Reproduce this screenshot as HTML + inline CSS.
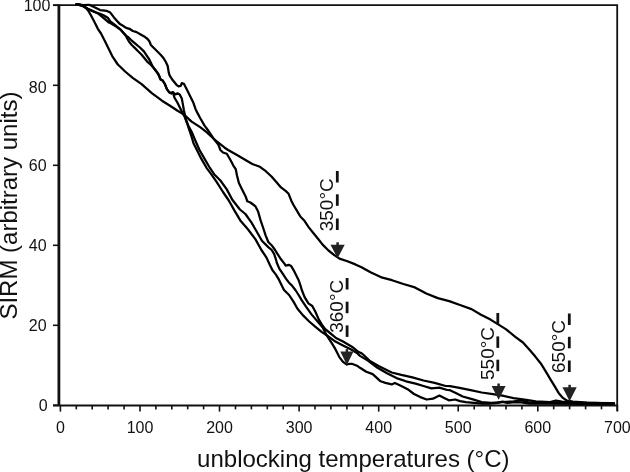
<!DOCTYPE html>
<html><head><meta charset="utf-8"><style>
html,body{margin:0;padding:0;background:#fff;}
svg{display:block;filter:grayscale(1);}
text{font-family:"Liberation Sans",sans-serif;fill:#111;}
.t{font-size:16px;}
.big{font-size:24px;}
.ann{font-size:19px;}
</style></head><body>
<svg width="630" height="472" viewBox="0 0 630 472">
<rect width="630" height="472" fill="#fff"/>
<path d="M53,5.2 H617.2 V411" fill="none" stroke="#111" stroke-width="1.8"/>
<line x1="58.9" y1="4.5" x2="58.9" y2="406" stroke="#111" stroke-width="2.8"/>
<line x1="53" y1="405.6" x2="617.5" y2="405.6" stroke="#111" stroke-width="2"/>
<line x1="53" y1="405.3" x2="59" y2="405.3" stroke="#111" stroke-width="1.6"/>
<line x1="53" y1="325.3" x2="59" y2="325.3" stroke="#111" stroke-width="1.6"/>
<line x1="53" y1="245.3" x2="59" y2="245.3" stroke="#111" stroke-width="1.6"/>
<line x1="53" y1="165.3" x2="59" y2="165.3" stroke="#111" stroke-width="1.6"/>
<line x1="53" y1="85.3" x2="59" y2="85.3" stroke="#111" stroke-width="1.6"/>
<line x1="53" y1="5.3" x2="59" y2="5.3" stroke="#111" stroke-width="1.6"/>
<line x1="60.4" y1="405" x2="60.4" y2="411.6" stroke="#111" stroke-width="1.6"/>
<line x1="76.3" y1="405" x2="76.3" y2="409.4" stroke="#111" stroke-width="1.6"/>
<line x1="92.2" y1="405" x2="92.2" y2="409.4" stroke="#111" stroke-width="1.6"/>
<line x1="108.1" y1="405" x2="108.1" y2="409.4" stroke="#111" stroke-width="1.6"/>
<line x1="124.1" y1="405" x2="124.1" y2="409.4" stroke="#111" stroke-width="1.6"/>
<line x1="140.0" y1="405" x2="140.0" y2="411.6" stroke="#111" stroke-width="1.6"/>
<line x1="155.9" y1="405" x2="155.9" y2="409.4" stroke="#111" stroke-width="1.6"/>
<line x1="171.8" y1="405" x2="171.8" y2="409.4" stroke="#111" stroke-width="1.6"/>
<line x1="187.7" y1="405" x2="187.7" y2="409.4" stroke="#111" stroke-width="1.6"/>
<line x1="203.6" y1="405" x2="203.6" y2="409.4" stroke="#111" stroke-width="1.6"/>
<line x1="219.5" y1="405" x2="219.5" y2="411.6" stroke="#111" stroke-width="1.6"/>
<line x1="235.5" y1="405" x2="235.5" y2="409.4" stroke="#111" stroke-width="1.6"/>
<line x1="251.4" y1="405" x2="251.4" y2="409.4" stroke="#111" stroke-width="1.6"/>
<line x1="267.3" y1="405" x2="267.3" y2="409.4" stroke="#111" stroke-width="1.6"/>
<line x1="283.2" y1="405" x2="283.2" y2="409.4" stroke="#111" stroke-width="1.6"/>
<line x1="299.1" y1="405" x2="299.1" y2="411.6" stroke="#111" stroke-width="1.6"/>
<line x1="315.0" y1="405" x2="315.0" y2="409.4" stroke="#111" stroke-width="1.6"/>
<line x1="330.9" y1="405" x2="330.9" y2="409.4" stroke="#111" stroke-width="1.6"/>
<line x1="346.9" y1="405" x2="346.9" y2="409.4" stroke="#111" stroke-width="1.6"/>
<line x1="362.8" y1="405" x2="362.8" y2="409.4" stroke="#111" stroke-width="1.6"/>
<line x1="378.7" y1="405" x2="378.7" y2="411.6" stroke="#111" stroke-width="1.6"/>
<line x1="394.6" y1="405" x2="394.6" y2="409.4" stroke="#111" stroke-width="1.6"/>
<line x1="410.5" y1="405" x2="410.5" y2="409.4" stroke="#111" stroke-width="1.6"/>
<line x1="426.4" y1="405" x2="426.4" y2="409.4" stroke="#111" stroke-width="1.6"/>
<line x1="442.3" y1="405" x2="442.3" y2="409.4" stroke="#111" stroke-width="1.6"/>
<line x1="458.2" y1="405" x2="458.2" y2="411.6" stroke="#111" stroke-width="1.6"/>
<line x1="474.2" y1="405" x2="474.2" y2="409.4" stroke="#111" stroke-width="1.6"/>
<line x1="490.1" y1="405" x2="490.1" y2="409.4" stroke="#111" stroke-width="1.6"/>
<line x1="506.0" y1="405" x2="506.0" y2="409.4" stroke="#111" stroke-width="1.6"/>
<line x1="521.9" y1="405" x2="521.9" y2="409.4" stroke="#111" stroke-width="1.6"/>
<line x1="537.8" y1="405" x2="537.8" y2="411.6" stroke="#111" stroke-width="1.6"/>
<line x1="553.7" y1="405" x2="553.7" y2="409.4" stroke="#111" stroke-width="1.6"/>
<line x1="569.6" y1="405" x2="569.6" y2="409.4" stroke="#111" stroke-width="1.6"/>
<line x1="585.6" y1="405" x2="585.6" y2="409.4" stroke="#111" stroke-width="1.6"/>
<line x1="601.5" y1="405" x2="601.5" y2="409.4" stroke="#111" stroke-width="1.6"/>
<line x1="617.4" y1="405" x2="617.4" y2="411.6" stroke="#111" stroke-width="1.6"/>
<polyline points="76.5,4.2 80.0,4.6 83.4,6.2 86.0,8.0 88.1,10.5 90.5,14.5 92.9,19.1 95.5,24.0 97.7,28.6 101.0,33.5 105.1,41.6 108.9,49.3 112.7,56.9 117.8,64.5 120.5,67.0 125.1,71.5 132.7,77.8 141.6,84.2 151.8,93.1 162.0,100.7 170.0,105.7 177.6,110.8 184.0,114.6 191.6,121.6 200.5,127.4 206.9,132.4 215.8,140.7 224.7,147.7 228.1,150.0 237.0,155.1 245.9,160.2 252.3,164.0 259.9,166.8 265.8,171.2 271.5,176.5 276.3,182.1 281.0,187.4 285.6,190.9 288.6,193.8 291.2,200.4 293.5,205.0 297.0,210.8 300.5,216.7 304.0,220.2 308.6,227.1 313.3,233.0 318.0,238.8 322.6,244.6 328.5,250.5 334.3,255.1 339.5,258.6 347.4,261.2 355.4,264.4 361.5,267.2 371.0,272.5 382.4,277.7 392.0,280.2 403.4,284.0 414.9,287.4 426.3,293.5 437.8,298.1 449.2,301.1 460.7,305.3 471.5,309.1 481.0,314.8 490.5,319.6 498.2,324.4 505.8,329.1 515.3,336.8 523.0,342.5 530.6,351.1 535.7,357.1 541.4,364.3 545.7,371.4 550.0,378.6 554.3,385.7 558.6,392.9 562.9,397.9 567.1,400.7 572.9,401.7 587.1,402.6 601.4,403.1 614.0,403.6" fill="none" stroke="#000" stroke-width="2.25" stroke-linejoin="round" stroke-linecap="round"/>
<polyline points="76.5,4.2 83.4,5.0 89.1,4.8 95.0,7.5 100.1,10.1 106.9,10.9 110.3,12.6 113.6,16.9 117.9,21.9 120.0,24.1 122.9,25.7 126.1,27.9 129.5,28.8 132.8,31.0 136.6,32.1 140.2,34.2 143.8,36.2 147.6,39.0 149.5,41.5 150.9,45.0 154.1,48.2 157.9,52.0 161.1,55.2 163.6,58.3 165.6,61.5 167.7,66.0 168.7,72.4 169.6,75.3 172.2,79.5 176.5,84.8 178.6,86.4 180.7,85.9 181.8,83.2 183.9,83.8 187.1,90.1 190.3,96.5 193.4,102.8 195.6,109.2 197.7,113.4 200.0,117.7 204.4,125.4 208.2,130.5 213.3,138.2 218.3,144.5 220.4,150.0 223.0,152.5 226.8,153.8 230.6,160.2 233.2,165.3 235.7,169.1 237.0,175.4 238.9,183.1 242.1,189.4 245.9,197.1 247.3,201.3 250.4,202.5 255.5,206.4 258.1,211.5 260.6,220.4 263.2,228.0 265.7,235.6 268.3,242.0 272.1,245.8 275.1,250.0 277.6,254.2 281.0,259.3 284.4,263.6 285.7,265.7 286.9,265.3 288.6,264.8 291.2,266.1 293.7,270.3 296.3,275.4 298.8,280.5 300.5,285.6 301.8,290.0 304.6,297.1 308.4,303.4 312.3,306.0 315.5,312.0 318.7,319.4 321.9,324.7 325.0,329.0 330.0,333.0 336.0,338.0 343.0,341.6 351.9,346.7 358.3,351.8 362.0,353.5 369.5,360.6 379.0,366.2 391.7,372.5 401.3,374.9 412.4,377.3 423.5,380.5 434.6,382.9 445.7,386.0 450.0,386.2 459.5,387.8 470.6,390.2 481.7,392.5 492.9,394.1 502.4,395.7 513.5,398.1 524.6,399.7 535.7,401.3 550.0,402.1 580.0,402.8 614.0,403.2" fill="none" stroke="#000" stroke-width="2.25" stroke-linejoin="round" stroke-linecap="round"/>
<polyline points="76.5,4.2 83.4,6.2 88.0,8.8 92.0,10.5 96.0,12.5 98.5,13.8 101.0,15.8 105.2,19.4 108.6,22.4 110.3,23.0 116.2,26.5 120.4,29.6 122.8,32.2 126.0,35.9 126.8,37.8 129.1,41.8 131.8,45.0 135.0,48.1 138.1,51.3 141.4,54.5 144.5,58.3 147.7,62.2 151.0,65.0 154.1,68.5 156.6,71.7 158.5,74.5 160.6,79.5 162.7,80.6 164.8,83.8 166.9,89.1 169.1,92.2 171.2,93.3 172.8,92.2 174.4,97.5 177.5,102.8 180.7,109.2 182.8,113.4 185.0,117.5 187.0,123.0 189.1,129.3 191.5,136.5 193.5,143.3 196.9,150.0 201.4,158.9 206.5,167.8 210.3,172.9 216.6,181.8 223.0,192.0 228.8,200.5 234.2,210.1 240.3,220.4 247.9,229.3 255.5,239.4 261.4,250.0 266.5,257.6 270.0,265.3 272.5,270.3 275.9,274.6 278.5,278.8 281.0,283.9 284.0,290.0 289.1,295.0 293.3,301.4 297.5,308.8 302.8,315.1 309.2,321.5 315.5,326.8 321.9,332.1 328.3,336.3 335.4,341.6 343.0,345.4 350.7,349.2 357.0,353.0 360.0,355.9 367.9,360.6 377.5,367.8 387.0,373.3 396.5,378.1 406.0,381.3 415.6,383.7 423.5,386.0 431.4,388.4 439.4,387.6 447.3,390.0 450.0,390.2 456.3,393.3 462.7,396.5 473.8,399.7 481.7,402.1 491.3,402.9 502.4,402.1 513.5,401.3 521.4,400.5 529.4,402.5 538.9,402.5 550.0,402.1 556.0,400.5 562.0,401.5 580.0,403.0 614.0,403.5" fill="none" stroke="#000" stroke-width="2.25" stroke-linejoin="round" stroke-linecap="round"/>
<polyline points="76.5,4.2 83.4,6.2 88.0,9.2 92.0,11.0 96.0,12.5 100.0,13.8 103.5,15.2 107.7,17.7 110.3,21.5 116.2,26.0 120.4,29.4 122.8,32.0 126.0,35.6 128.6,37.5 131.8,40.7 135.0,43.4 138.1,46.0 140.7,48.2 143.9,51.4 146.4,55.2 149.0,59.0 150.9,62.8 152.0,65.2 154.1,68.5 156.6,71.7 158.5,74.5 160.6,79.5 162.7,80.6 164.8,83.8 166.9,89.1 169.1,92.2 171.2,93.3 172.8,92.2 175.4,94.4 177.5,93.3 179.7,94.4 181.8,98.6 182.8,103.9 183.9,110.3 185.0,115.6 186.0,120.0 188.5,126.0 191.6,131.8 195.4,140.7 199.5,150.0 203.9,157.6 209.0,166.5 214.1,174.2 220.4,180.5 226.8,189.4 232.3,199.8 239.9,209.5 245.4,214.0 251.7,222.9 256.8,231.8 261.9,240.7 268.3,247.1 271.7,250.0 274.2,254.2 275.9,259.3 276.8,262.7 279.3,268.6 282.7,273.7 286.1,278.8 288.6,282.2 292.0,285.6 295.4,290.0 298.3,294.5 301.8,300.3 306.0,306.7 311.3,314.1 316.6,320.4 322.7,327.6 326.5,335.2 331.6,342.9 335.4,349.2 339.2,356.8 343.0,361.9 346.8,364.5 349.4,363.8 351.9,363.8 357.0,365.7 360.0,367.8 366.3,371.7 372.7,374.1 380.6,381.3 385.4,382.9 391.7,384.4 394.9,382.9 401.3,386.0 407.6,389.2 414.0,394.0 420.3,397.1 426.7,399.5 433.0,398.7 439.4,395.6 444.1,397.9 448.9,400.3 455.2,399.5 460.0,401.1 465.9,402.1 473.8,402.9 481.7,403.7 489.7,403.7 497.6,402.9 502.4,401.6 507.1,402.9 515.1,402.1 521.4,402.5 529.4,403.7 537.3,403.7 550.0,403.7 580.0,404.0 614.0,404.0" fill="none" stroke="#000" stroke-width="2.25" stroke-linejoin="round" stroke-linecap="round"/>
<text x="50.4" y="10.5" text-anchor="end" class="t">100</text>
<text x="46.6" y="92.5" text-anchor="end" class="t">80</text>
<text x="46.6" y="170.6" text-anchor="end" class="t">60</text>
<text x="46.6" y="250.6" text-anchor="end" class="t">40</text>
<text x="46.6" y="330.6" text-anchor="end" class="t">20</text>
<text x="47.6" y="410.9" text-anchor="end" class="t">0</text>
<text x="60.4" y="433.4" text-anchor="middle" class="t">0</text>
<text x="140.0" y="433.4" text-anchor="middle" class="t">100</text>
<text x="219.5" y="433.4" text-anchor="middle" class="t">200</text>
<text x="299.1" y="433.4" text-anchor="middle" class="t">300</text>
<text x="378.7" y="433.4" text-anchor="middle" class="t">400</text>
<text x="458.2" y="433.4" text-anchor="middle" class="t">500</text>
<text x="537.8" y="433.4" text-anchor="middle" class="t">600</text>
<text x="617.4" y="433.4" text-anchor="middle" class="t">700</text>
<text x="197.1" y="466.7" class="big">unblocking temperatures (°C)</text>
<text transform="translate(17.3,319.6) rotate(-90)" x="0" y="0" class="big">SIRM (arbitrary units)</text>
<text transform="translate(332.8,231.3) rotate(-90)" class="ann">350°C</text>
<line x1="337.3" y1="171" x2="337.3" y2="182.5" stroke="#111" stroke-width="2.8"/>
<line x1="337.3" y1="194.3" x2="337.3" y2="205.8" stroke="#111" stroke-width="2.8"/>
<line x1="337.3" y1="218.5" x2="337.3" y2="230.0" stroke="#111" stroke-width="2.8"/>
<line x1="337.6" y1="242.3" x2="337.6" y2="245.8" stroke="#222" stroke-width="2.5"/>
<polygon points="330.5,244.8 344.70000000000005,244.8 337.6,258.3" fill="#222"/>
<text transform="translate(343.3,332.8) rotate(-90)" class="ann">360°C</text>
<line x1="347.1" y1="278" x2="347.1" y2="289.5" stroke="#111" stroke-width="2.8"/>
<line x1="347.1" y1="301.7" x2="347.1" y2="313.2" stroke="#111" stroke-width="2.8"/>
<line x1="347.1" y1="325.4" x2="347.1" y2="336.9" stroke="#111" stroke-width="2.8"/>
<line x1="346.9" y1="349.1" x2="346.9" y2="352.6" stroke="#222" stroke-width="2.5"/>
<polygon points="340.29999999999995,351.6 353.5,351.6 346.9,365.0" fill="#222"/>
<text transform="translate(494.0,380.0) rotate(-90)" class="ann">550°C</text>
<line x1="497.8" y1="313" x2="497.8" y2="324.5" stroke="#111" stroke-width="2.8"/>
<line x1="497.8" y1="336.4" x2="497.8" y2="347.9" stroke="#111" stroke-width="2.8"/>
<line x1="497.8" y1="359.7" x2="497.8" y2="371.2" stroke="#111" stroke-width="2.8"/>
<line x1="498.6" y1="383.5" x2="498.6" y2="387.0" stroke="#222" stroke-width="2.5"/>
<polygon points="491.6,386.0 505.6,386.0 498.6,399.8" fill="#222"/>
<text transform="translate(565.2,373.0) rotate(-90)" class="ann">650°C</text>
<line x1="569.3" y1="313.5" x2="569.3" y2="325.0" stroke="#111" stroke-width="2.8"/>
<line x1="569.3" y1="336.8" x2="569.3" y2="348.3" stroke="#111" stroke-width="2.8"/>
<line x1="569.3" y1="360.5" x2="569.3" y2="372.0" stroke="#111" stroke-width="2.8"/>
<line x1="569.6" y1="384.8" x2="569.6" y2="388.3" stroke="#222" stroke-width="2.5"/>
<polygon points="562.5,387.3 576.7,387.3 569.6,401.2" fill="#222"/>
</svg>
</body></html>
